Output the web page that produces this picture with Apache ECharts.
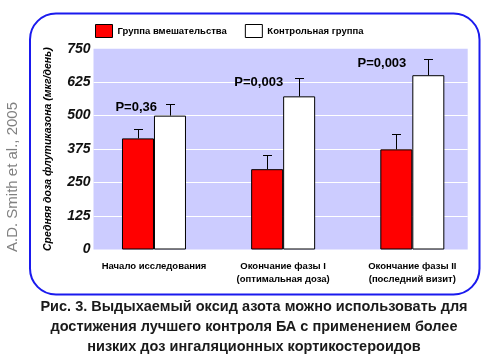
<!DOCTYPE html>
<html><head><meta charset="utf-8">
<script src="https://cdn.jsdelivr.net/npm/echarts@6/dist/echarts.min.js"></script>
<style>html,body{margin:0;padding:0;background:#fff}#c{width:492px;height:363px}</style>
</head><body><div id="c"></div>
<script>
const categories = ['Начало исследования', 'Окончание фазы I\n(оптимальная доза)', 'Окончание фазы II\n(последний визит)'];
const seriesNames = ['Группа вмешательства', 'Контрольная группа'];
const interventionMean = [415, 300, 374];
const interventionErr = [35, 52, 56];
const controlMean = [500, 572, 651];
const controlErr = [45, 68, 59];
const pValues = ['P=0,36', 'P=0,003', 'P=0,003'];
const yTicks = [0, 125, 250, 375, 500, 625, 750];
const yTitle = 'Средняя доза флутиказона (мкг/день)';
const caption = 'Рис. 3. Выдыхаемый оксид азота можно использовать для\nдостижения лучшего контроля БА с применением более\nнизких доз ингаляционных кортикостероидов';
const citation = 'A.D. Smith et al., 2005';

const BAR_W = 32;
const chart = echarts.init(document.getElementById('c'), null, {renderer: 'canvas'});

function errSeries(means, errs, dx) {
  return {
    type: 'custom', xAxisIndex: 1, yAxisIndex: 1, z: 5, silent: true,
    data: means.map((m, i) => [i, m, errs[i]]),
    renderItem: function (params, api) {
      const base = api.coord([api.value(0), api.value(1)]);
      const top = api.coord([api.value(0), api.value(1) + api.value(2)]);
      const x = Math.round(base[0] + dx) + 0.5;
      const yt = Math.round(top[1]) + 0.5;
      return {type: 'group', children: [
        {type: 'line', shape: {x1: x, y1: base[1], x2: x, y2: yt}, style: {stroke: '#000', lineWidth: 1}},
        {type: 'line', shape: {x1: x - 4.5, y1: yt, x2: x + 4.5, y2: yt}, style: {stroke: '#000', lineWidth: 1}}
      ]};
    }
  };
}

const pOffsets = [3, 0, -6];

chart.setOption({
  animation: false,
  backgroundColor: '#fff',
  legend: {
    left: 95, top: 24, padding: 0, itemWidth: 17, itemHeight: 13, itemGap: 18, icon: 'rect',
    data: seriesNames,
    textStyle: {fontFamily: 'Liberation Sans', fontWeight: 'bold', fontSize: 9.5, color: '#000'},
    itemStyle: {borderColor: '#000', borderWidth: 1}
  },
  grid: [
    {left: 93.5, right: 24.3, top: 48.7, bottom: 113.5, show: true, backgroundColor: '#ccccff', borderWidth: 0},
    {left: 89.4, right: 15.1, top: 48.7, bottom: 113.5}
  ],
  xAxis: [
    {type: 'value', gridIndex: 0, show: false, min: 0, max: 1},
    {type: 'category', gridIndex: 1, data: categories,
     axisLine: {show: false}, axisTick: {show: false},
     axisLabel: {interval: 0, margin: 10, fontFamily: 'Liberation Sans', fontWeight: 'bold', fontSize: 9.5, lineHeight: 13, color: '#000'}}
  ],
  yAxis: [
    {type: 'value', gridIndex: 0, min: yTicks[0], max: yTicks[yTicks.length - 1], interval: 125,
     axisLine: {show: false}, axisTick: {show: false},
     splitLine: {show: true, showMinLine: false, showMaxLine: false, lineStyle: {color: '#fff', width: 1}},
     axisLabel: {margin: 3, fontFamily: 'Liberation Sans', fontWeight: 'bold', fontStyle: 'italic', fontSize: 14, color: '#111'},
     name: yTitle, nameLocation: 'middle', nameRotate: 90, nameGap: 40,
     nameTextStyle: {fontFamily: 'Liberation Sans', fontWeight: 'bold', fontStyle: 'italic', fontSize: 10.5, color: '#000', padding: [0, 0, 0, 0]}},
    {type: 'value', gridIndex: 1, min: 0, max: 750, show: false, splitLine: {show: false}}
  ],
  series: [
    {name: seriesNames[0], type: 'bar', xAxisIndex: 1, yAxisIndex: 1, data: interventionMean,
     barWidth: BAR_W, barGap: '0%', itemStyle: {color: '#ff0000', borderColor: '#000', borderWidth: 1}},
    {name: seriesNames[1], type: 'bar', xAxisIndex: 1, yAxisIndex: 1, data: controlMean,
     barWidth: BAR_W, barGap: '0%', itemStyle: {color: '#ffffff', borderColor: '#000', borderWidth: 1}},
    errSeries(interventionMean, interventionErr, -BAR_W / 2),
    errSeries(controlMean, controlErr, BAR_W / 2),
    {type: 'custom', xAxisIndex: 1, yAxisIndex: 1, z: 6, silent: true,
     data: controlMean.map((m, i) => [i, m + controlErr[i], pValues[i]]),
     renderItem: function (params, api) {
       const i = params.dataIndex;
       const p = api.coord([api.value(0), api.value(1)]);
       return {type: 'text', x: p[0] + pOffsets[i], y: p[1] + 4,
         style: {text: pValues[i], textAlign: 'right', textVerticalAlign: 'middle',
           font: 'bold 13px "Liberation Sans"', fill: '#000'}};
     }}
  ],
  graphic: [
    {type: 'rect', shape: {x: 30, y: 13.5, width: 449.5, height: 281, r: 26},
     style: {fill: 'none', stroke: '#1a1aee', lineWidth: 2}, silent: true},
    {type: 'text', x: 13, y: 177, rotation: Math.PI / 2,
     style: {text: citation, textAlign: 'center', textVerticalAlign: 'middle',
       font: '15px "Liberation Sans"', fill: '#808080'}},
    {type: 'text', x: 254, y: 297,
     style: {text: caption, textAlign: 'center', textVerticalAlign: 'top', lineHeight: 20,
       font: 'bold 14.5px "Liberation Sans"', fill: '#1a1a1a'}}
  ]
});
</script></body></html>
